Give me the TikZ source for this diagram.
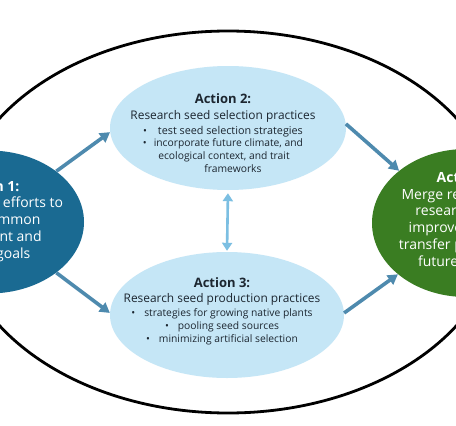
\documentclass[tikz,border=0pt]{standalone}
\usepackage{fontspec}
\setmainfont{Open Sans}
\usetikzlibrary{shapes.geometric,arrows.meta}
\definecolor{paleblue}{HTML}{C5E6F6}
\definecolor{actblue}{HTML}{1A6A92}
\definecolor{actgreen}{HTML}{3A7D22}
\definecolor{flowblue}{HTML}{4E8AAE}
\definecolor{linkblue}{HTML}{7CBFE2}
\definecolor{inktext}{HTML}{1C2630}
\tikzset{
  act/.style={ellipse,draw=none,inner sep=0pt},
  flow/.style={draw=flowblue,line width=3.6pt,-{Triangle[length=10pt,width=11pt]}},
  link/.style={draw=linkblue,line width=2.6pt,{Triangle[length=8pt,width=10pt]}-{Triangle[length=8pt,width=10pt]}},
  inner text/.style={align=center,text=inktext,font=\fontsize{10.3}{12.7}\selectfont},
  outer text/.style={align=center,text=white,font=\fontsize{14}{16.8}\selectfont}
}
\begin{document}
\begin{tikzpicture}[x=1pt,y=-1pt]
\useasboundingbox (0,0) rectangle (456,426);
\fill[white] (0,0) rectangle (456,426);
% frame round the four actions
\draw[line width=2.8pt] (228,222) ellipse [x radius=272, y radius=191];
\node[act,fill=actblue,minimum width=190pt,minimum height=143pt] (a1) at (-11,222) {};
\node[act,fill=paleblue,minimum width=236pt,minimum height=124pt] (a2) at (228,128) {};
\node[act,fill=paleblue,minimum width=234pt,minimum height=126pt] (a3) at (227,315) {};
\node[act,fill=actgreen,minimum width=188pt,minimum height=148pt] (a4) at (466,223) {};
% texts
\node[outer text] (t1) at (-11,221) {\textbf{Action 1:}\\Coordinating efforts to\\define common\\assessment and\\shared goals};
\node[inner text] (t2) at (223,133) {{\fontsize{13}{13}\selectfont\bfseries Action 2:}\\[3pt]
  {\fontsize{11.9}{13}\selectfont Research seed selection practices}\\[2.3pt]
  \textbullet\hspace{11pt}{\fontsize{10.8}{12.7}\selectfont test seed selection strategies}\\
  \textbullet\hspace{7pt}incorporate future climate, and\\
  \hspace*{2pt}ecological context, and trait\\
  \hspace*{20pt}frameworks};
\node[inner text] (t3) at (222,311) {{\fontsize{13}{13}\selectfont\bfseries Action 3:}\\[3pt]
  {\fontsize{11.9}{13}\selectfont Research seed production practices}\\[1.3pt]
  \textbullet\hspace{9pt}strategies for growing native plants\\
  \textbullet\hspace{9pt}pooling seed sources\\
  \textbullet\hspace{9pt}minimizing artificial selection};
\node[outer text] (t4) at (467,219) {\textbf{Action 4:}\\Merge results of the\\research efforts\\improve guidance\\transfer practices for\\future climates};
% arrows
\draw[flow] (a1.37) -- (a2.182);
\draw[flow] (a1.-37) -- (a3.179);
\draw[flow] (a2.2) -- (a4.142);
\draw[flow] (a3.1) -- (a4.217);
\draw[link,shorten <=3pt,shorten >=1pt] (a2.south) -- (a3.north);
\end{tikzpicture}
\end{document}
